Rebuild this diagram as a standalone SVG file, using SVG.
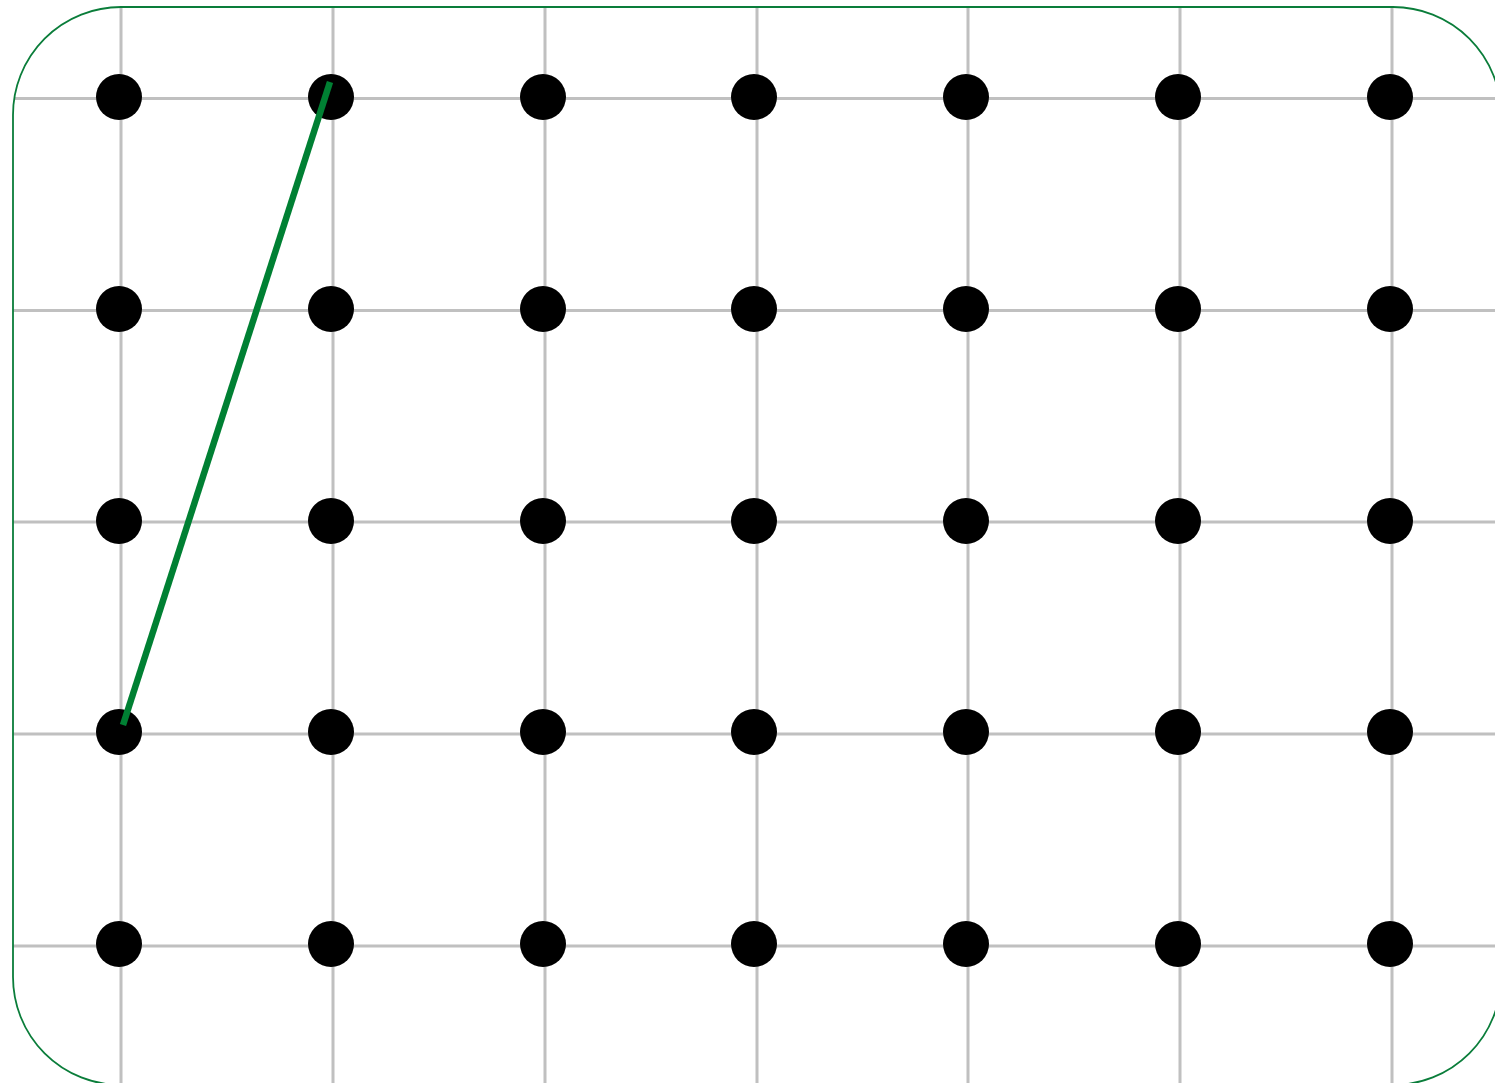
<svg xmlns="http://www.w3.org/2000/svg" width="1495" height="1083" viewBox="0 0 1495 1083">
<style>
.grid line{stroke:#c0c0c0;stroke-width:3}
.dot{fill:#000}
.frame{fill:none;stroke:#0a7d3a;stroke-width:1.8}
.conn{stroke:#008033;stroke-width:6.5;stroke-linecap:butt}
</style>
<defs>
<clipPath id="clip"><rect x="13" y="7" width="1488" height="1078" rx="108" ry="108"/></clipPath>
</defs>
<rect width="1495" height="1083" fill="#fff"/>
<g class="grid" clip-path="url(#clip)">
<line x1="121" y1="0" x2="121" y2="1083"/>
<line x1="333" y1="0" x2="333" y2="1083"/>
<line x1="545" y1="0" x2="545" y2="1083"/>
<line x1="757" y1="0" x2="757" y2="1083"/>
<line x1="968" y1="0" x2="968" y2="1083"/>
<line x1="1180" y1="0" x2="1180" y2="1083"/>
<line x1="1392" y1="0" x2="1392" y2="1083"/>
<line x1="0" y1="98.5" x2="1495" y2="98.5"/>
<line x1="0" y1="310.5" x2="1495" y2="310.5"/>
<line x1="0" y1="522" x2="1495" y2="522"/>
<line x1="0" y1="734" x2="1495" y2="734"/>
<line x1="0" y1="946" x2="1495" y2="946"/>
</g>
<rect class="frame" x="13" y="7" width="1488" height="1078" rx="108" ry="108"/>
<g id="nodes">
<g id="r0">
<circle id="n0_0" class="dot" cx="119" cy="97" r="23"/>
<circle id="n0_1" class="dot" cx="331" cy="97" r="23"/>
<circle id="n0_2" class="dot" cx="543" cy="97" r="23"/>
<circle id="n0_3" class="dot" cx="754" cy="97" r="23"/>
<circle id="n0_4" class="dot" cx="966" cy="97" r="23"/>
<circle id="n0_5" class="dot" cx="1178" cy="97" r="23"/>
<circle id="n0_6" class="dot" cx="1390" cy="97" r="23"/>
</g>
<g id="r1">
<circle id="n1_0" class="dot" cx="119" cy="309" r="23"/>
<circle id="n1_1" class="dot" cx="331" cy="309" r="23"/>
<circle id="n1_2" class="dot" cx="543" cy="309" r="23"/>
<circle id="n1_3" class="dot" cx="754" cy="309" r="23"/>
<circle id="n1_4" class="dot" cx="966" cy="309" r="23"/>
<circle id="n1_5" class="dot" cx="1178" cy="309" r="23"/>
<circle id="n1_6" class="dot" cx="1390" cy="309" r="23"/>
</g>
<g id="r2">
<circle id="n2_0" class="dot" cx="119" cy="521" r="23"/>
<circle id="n2_1" class="dot" cx="331" cy="521" r="23"/>
<circle id="n2_2" class="dot" cx="543" cy="521" r="23"/>
<circle id="n2_3" class="dot" cx="754" cy="521" r="23"/>
<circle id="n2_4" class="dot" cx="966" cy="521" r="23"/>
<circle id="n2_5" class="dot" cx="1178" cy="521" r="23"/>
<circle id="n2_6" class="dot" cx="1390" cy="521" r="23"/>
</g>
<g id="r3">
<circle id="n3_0" class="dot" cx="119" cy="732" r="23"/>
<circle id="n3_1" class="dot" cx="331" cy="732" r="23"/>
<circle id="n3_2" class="dot" cx="543" cy="732" r="23"/>
<circle id="n3_3" class="dot" cx="754" cy="732" r="23"/>
<circle id="n3_4" class="dot" cx="966" cy="732" r="23"/>
<circle id="n3_5" class="dot" cx="1178" cy="732" r="23"/>
<circle id="n3_6" class="dot" cx="1390" cy="732" r="23"/>
</g>
<g id="r4">
<circle id="n4_0" class="dot" cx="119" cy="944" r="23"/>
<circle id="n4_1" class="dot" cx="331" cy="944" r="23"/>
<circle id="n4_2" class="dot" cx="543" cy="944" r="23"/>
<circle id="n4_3" class="dot" cx="754" cy="944" r="23"/>
<circle id="n4_4" class="dot" cx="966" cy="944" r="23"/>
<circle id="n4_5" class="dot" cx="1178" cy="944" r="23"/>
<circle id="n4_6" class="dot" cx="1390" cy="944" r="23"/>
</g>
</g>
<g id="connectors">
<line class="conn" x1="330" y1="82" x2="123" y2="725"/>
</g>
</svg>
